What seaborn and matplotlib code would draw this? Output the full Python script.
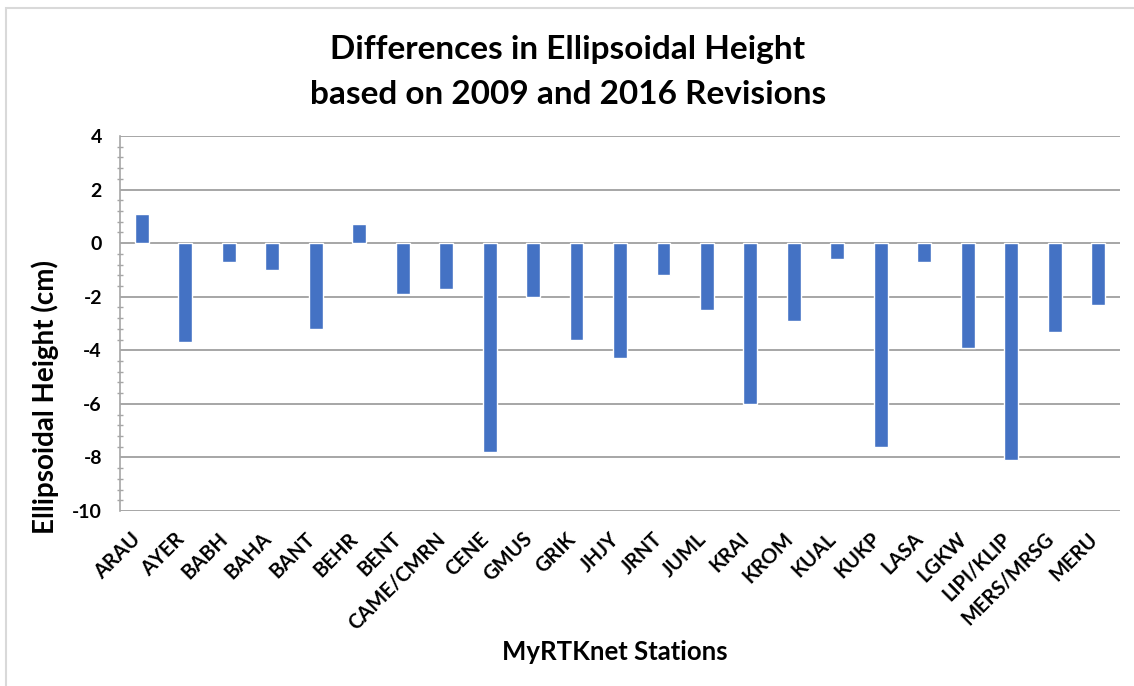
import matplotlib
matplotlib.use("Agg")
import matplotlib.pyplot as plt
from matplotlib.patches import Rectangle
from matplotlib.ticker import MultipleLocator, FuncFormatter
from matplotlib.transforms import ScaledTranslation
import seaborn as sns
import pandas as pd

# Station codes (MyRTKnet) and height differences in cm
stations = ["ARAU", "AYER", "BABH", "BAHA", "BANT", "BEHR", "BENT", "CAME/CMRN",
            "CENE", "GMUS", "GRIK", "JHJY", "JRNT", "JUML", "KRAI", "KROM",
            "KUAL", "KUKP", "LASA", "LGKW", "LIPI/KLIP", "MERS/MRSG", "MERU"]
height_diff = [1.1, -3.7, -0.7, -1.0, -3.2, 0.7, -1.9, -1.7,
               -7.8, -2.0, -3.6, -4.3, -1.2, -2.5, -6.0, -2.9,
               -0.6, -7.6, -0.7, -3.9, -8.1, -3.3, -2.3]
y_ticks = [4, 2, 0, -2, -4, -6, -8, -10]

title_lines = ["Differences in Ellipsoidal Height",
               "based on 2009 and 2016 Revisions"]
x_title = "MyRTKnet Stations"
y_title = "Ellipsoidal Height (cm)"

df = pd.DataFrame({"station": stations, "diff": height_diff})

sns.set_theme(style="white")
plt.rcParams["font.family"] = ["Lato", "DejaVu Sans"]
plt.rcParams["axes.unicode_minus"] = False

W, H = 1134, 686
fig = plt.figure(figsize=(W / 100, H / 100), dpi=100)
fig.patch.set_facecolor("white")

# plot area in pixel terms
left, right, top, bottom = 120, 1120, 136, 511
ax = fig.add_axes([left / W, 1 - bottom / H, (right - left) / W, (bottom - top) / H])

bar_color = "#4472C4"
grid_color = "#a6a6a6"

sns.barplot(data=df, x="station", y="diff", color=bar_color, saturation=1,
            width=0.32, ax=ax, zorder=3)

ax.set_ylim(min(y_ticks), max(y_ticks))
ax.set_xlim(-0.5, len(stations) - 0.5)
ax.yaxis.set_major_locator(MultipleLocator(2))
ax.yaxis.set_minor_locator(MultipleLocator(0.4))
ax.yaxis.set_major_formatter(FuncFormatter(lambda v, _: f"{v:.0f}"))

# horizontal gridlines
ax.grid(axis="y", which="major", color=grid_color, linewidth=1.4, zorder=0)
ax.grid(axis="x", visible=False)

for side in ["top", "right", "bottom"]:
    ax.spines[side].set_visible(False)
ax.spines["left"].set_color(grid_color)
ax.spines["left"].set_linewidth(1.2)

ax.tick_params(axis="y", which="major", direction="inout", length=8, width=1.2,
               color=grid_color, pad=9, labelsize=14)
ax.tick_params(axis="y", which="minor", direction="inout", length=5, width=1.0,
               color=grid_color, left=True)
ax.tick_params(axis="x", which="both", length=0, pad=18, labelsize=14.5)

for lab in ax.get_yticklabels():
    lab.set_fontweight("bold")
    lab.set_color("black")
ax.set_xticks(range(len(stations)))
ax.set_xticklabels(stations, rotation=45, ha="right", va="center",
                   rotation_mode="anchor", fontweight="bold", color="black")
# nudge the slanted station names so their ends sit under the bars
shift = ScaledTranslation(-4 / 100, 0, fig.dpi_scale_trans)
for lab in ax.get_xticklabels():
    lab.set_transform(lab.get_transform() + shift)

ax.set_xlabel(x_title, fontsize=18.5, fontweight="bold", color="black", va="baseline")
ax.xaxis.set_label_coords((615 - left) / (right - left), (bottom - 660) / (bottom - top))
ax.set_ylabel(y_title, fontsize=20, fontweight="bold", color="black", va="center")
ax.yaxis.set_label_coords((45 - left) / (right - left), (bottom - 397) / (bottom - top))

# two-line chart title
fig.text(568 / W, 1 - 59 / H, title_lines[0], ha="center", va="baseline",
         fontsize=24, fontweight="bold", color="black")
fig.text(568 / W, 1 - 104 / H, title_lines[1], ha="center", va="baseline",
         fontsize=24, fontweight="bold", color="black")

# chart-area frame
fig.patches.append(Rectangle((5.5 / W, -0.1), 1.2, 1 - 7.5 / H + 0.1,
                             transform=fig.transFigure, fill=False,
                             edgecolor="#d9d9d9", linewidth=1.5, zorder=-1))

fig.savefig("out.png", dpi=100, facecolor="white")
